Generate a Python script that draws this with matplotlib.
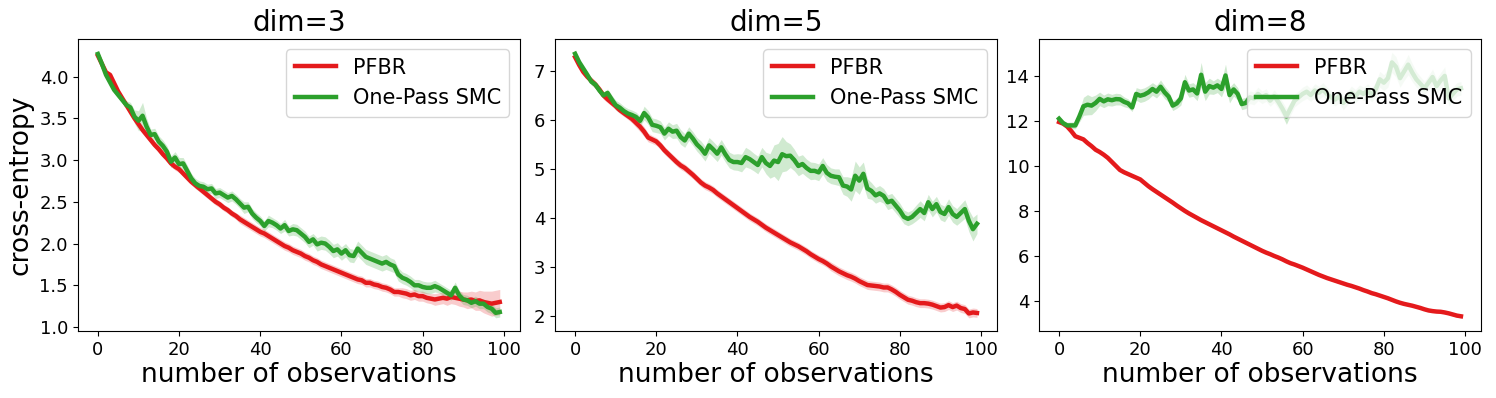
import numpy as np
import matplotlib
matplotlib.use("Agg")
import matplotlib.pyplot as plt

obs = np.arange(100)
titles = ["dim=3", "dim=5", "dim=8"]
method_names = ["PFBR", "One-Pass SMC"]
colors = ["#e41a1c", "#2ca02c"]

# dim = 3
pfbr_d3 = [4.25, 4.15, 4.05, 4.02, 3.92, 3.82, 3.74, 3.66, 3.58, 3.50,
           3.43, 3.36, 3.30, 3.24, 3.18, 3.13, 3.07, 3.02, 2.96, 2.92,
           2.89, 2.84, 2.79, 2.74, 2.70, 2.66, 2.62, 2.58, 2.54, 2.50,
           2.47, 2.43, 2.40, 2.36, 2.33, 2.29, 2.26, 2.23, 2.20, 2.17,
           2.14, 2.12, 2.09, 2.06, 2.03, 2.00, 1.97, 1.95, 1.92, 1.90,
           1.88, 1.85, 1.83, 1.80, 1.78, 1.75, 1.73, 1.71, 1.69, 1.67,
           1.65, 1.63, 1.61, 1.59, 1.57, 1.56, 1.53, 1.53, 1.51, 1.50,
           1.48, 1.47, 1.45, 1.42, 1.42, 1.41, 1.40, 1.38, 1.39, 1.37,
           1.37, 1.35, 1.34, 1.33, 1.34, 1.35, 1.34, 1.36, 1.35, 1.34,
           1.33, 1.32, 1.33, 1.31, 1.32, 1.30, 1.29, 1.28, 1.29, 1.30]
pfbr_d3_err = [0.02, 0.02, 0.02, 0.02, 0.03, 0.03, 0.03, 0.03, 0.03, 0.03,
               0.03, 0.03, 0.03, 0.04, 0.04, 0.04, 0.04, 0.04, 0.04, 0.04,
               0.04, 0.04, 0.04, 0.04, 0.04, 0.04, 0.04, 0.04, 0.04, 0.04,
               0.04, 0.04, 0.04, 0.04, 0.04, 0.05, 0.05, 0.05, 0.05, 0.05,
               0.05, 0.05, 0.05, 0.05, 0.05, 0.05, 0.05, 0.05, 0.05, 0.05,
               0.05, 0.05, 0.05, 0.05, 0.05, 0.05, 0.05, 0.05, 0.05, 0.05,
               0.05, 0.05, 0.05, 0.05, 0.05, 0.05, 0.05, 0.05, 0.05, 0.05,
               0.05, 0.05, 0.05, 0.05, 0.05, 0.06, 0.06, 0.06, 0.06, 0.06,
               0.06, 0.06, 0.06, 0.07, 0.07, 0.07, 0.08, 0.08, 0.08, 0.09,
               0.09, 0.10, 0.10, 0.11, 0.12, 0.13, 0.14, 0.15, 0.15, 0.15]
smc_d3 = [4.27, 4.15, 4.02, 3.93, 3.84, 3.78, 3.72, 3.66, 3.63, 3.52,
          3.47, 3.53, 3.40, 3.30, 3.31, 3.22, 3.17, 3.10, 2.98, 3.03,
          2.95, 2.96, 2.87, 2.78, 2.72, 2.69, 2.68, 2.65, 2.66, 2.60,
          2.61, 2.58, 2.55, 2.57, 2.53, 2.48, 2.43, 2.44, 2.36, 2.31,
          2.27, 2.21, 2.27, 2.25, 2.22, 2.18, 2.22, 2.15, 2.17, 2.16,
          2.12, 2.08, 2.02, 2.05, 1.99, 2.01, 2.00, 1.96, 1.91, 1.93,
          1.88, 1.92, 1.86, 1.85, 1.94, 1.89, 1.84, 1.82, 1.80, 1.78,
          1.76, 1.78, 1.75, 1.73, 1.63, 1.59, 1.57, 1.54, 1.50, 1.50,
          1.48, 1.47, 1.47, 1.49, 1.47, 1.44, 1.41, 1.38, 1.47, 1.38,
          1.33, 1.32, 1.29, 1.31, 1.28, 1.28, 1.24, 1.22, 1.17, 1.18]
smc_d3_err = [0.02, 0.03, 0.03, 0.04, 0.04, 0.04, 0.04, 0.05, 0.06, 0.08,
              0.12, 0.16, 0.10, 0.07, 0.07, 0.07, 0.07, 0.07, 0.07, 0.07,
              0.08, 0.07, 0.07, 0.06, 0.06, 0.06, 0.06, 0.06, 0.06, 0.06,
              0.06, 0.06, 0.06, 0.06, 0.06, 0.06, 0.07, 0.06, 0.06, 0.06,
              0.06, 0.06, 0.07, 0.06, 0.06, 0.06, 0.07, 0.06, 0.07, 0.07,
              0.07, 0.07, 0.07, 0.07, 0.08, 0.08, 0.08, 0.08, 0.08, 0.08,
              0.08, 0.08, 0.08, 0.08, 0.09, 0.09, 0.09, 0.09, 0.09, 0.09,
              0.09, 0.09, 0.08, 0.08, 0.08, 0.07, 0.07, 0.07, 0.07, 0.07,
              0.07, 0.07, 0.07, 0.07, 0.06, 0.06, 0.06, 0.06, 0.07, 0.06,
              0.06, 0.06, 0.06, 0.06, 0.06, 0.06, 0.06, 0.06, 0.06, 0.06]

# dim = 5
pfbr_d5 = [7.28, 7.12, 6.98, 6.88, 6.80, 6.72, 6.62, 6.50, 6.42, 6.35,
           6.28, 6.20, 6.14, 6.08, 6.02, 5.94, 5.86, 5.76, 5.64, 5.60,
           5.56, 5.48, 5.38, 5.30, 5.22, 5.14, 5.07, 5.02, 4.95, 4.88,
           4.80, 4.72, 4.66, 4.62, 4.57, 4.50, 4.44, 4.38, 4.32, 4.26,
           4.20, 4.14, 4.08, 4.02, 3.97, 3.92, 3.86, 3.80, 3.75, 3.70,
           3.65, 3.60, 3.55, 3.50, 3.46, 3.42, 3.37, 3.32, 3.26, 3.21,
           3.16, 3.12, 3.07, 3.01, 2.96, 2.91, 2.87, 2.83, 2.80, 2.76,
           2.71, 2.67, 2.63, 2.62, 2.61, 2.60, 2.58, 2.58, 2.54, 2.49,
           2.43, 2.38, 2.33, 2.31, 2.28, 2.26, 2.26, 2.25, 2.23, 2.20,
           2.17, 2.18, 2.22, 2.18, 2.21, 2.16, 2.14, 2.05, 2.07, 2.06]
pfbr_d5_err = [0.04, 0.04, 0.05, 0.06, 0.07, 0.08, 0.08, 0.08, 0.07, 0.07,
               0.07, 0.07, 0.07, 0.07, 0.08, 0.09, 0.10, 0.10, 0.09, 0.08,
               0.08, 0.08, 0.08, 0.08, 0.08, 0.08, 0.08, 0.08, 0.08, 0.08,
               0.08, 0.08, 0.08, 0.08, 0.08, 0.08, 0.08, 0.08, 0.08, 0.08,
               0.08, 0.08, 0.08, 0.08, 0.08, 0.08, 0.08, 0.08, 0.08, 0.08,
               0.08, 0.08, 0.08, 0.08, 0.08, 0.08, 0.08, 0.08, 0.08, 0.08,
               0.08, 0.08, 0.08, 0.09, 0.09, 0.09, 0.09, 0.09, 0.09, 0.09,
               0.09, 0.09, 0.09, 0.09, 0.09, 0.09, 0.09, 0.09, 0.09, 0.09,
               0.09, 0.09, 0.09, 0.09, 0.09, 0.09, 0.09, 0.09, 0.09, 0.09,
               0.09, 0.09, 0.09, 0.09, 0.09, 0.09, 0.09, 0.09, 0.09, 0.09]
smc_d5 = [7.35, 7.18, 7.05, 6.92, 6.78, 6.72, 6.60, 6.50, 6.55, 6.42,
          6.30, 6.25, 6.18, 6.13, 6.10, 6.06, 5.98, 6.14, 6.05, 5.90,
          5.88, 5.85, 5.72, 5.82, 5.76, 5.78, 5.65, 5.58, 5.72, 5.62,
          5.50, 5.42, 5.31, 5.48, 5.40, 5.31, 5.44, 5.30, 5.18, 5.14,
          5.14, 5.12, 5.24, 5.20, 5.14, 5.08, 5.24, 5.12, 5.06, 5.17,
          5.14, 5.30, 5.26, 5.27, 5.18, 5.06, 5.10, 5.02, 4.96, 4.96,
          4.93, 5.06, 4.92, 4.86, 4.84, 4.83, 4.66, 4.64, 4.58, 4.86,
          4.76, 4.90, 4.60, 4.55, 4.46, 4.50, 4.45, 4.32, 4.35, 4.25,
          4.15, 4.02, 3.98, 4.02, 4.10, 4.18, 4.10, 4.32, 4.18, 4.28,
          4.12, 4.08, 4.22, 4.08, 4.02, 4.10, 4.18, 3.94, 3.77, 3.88]
smc_d5_err = [0.03, 0.04, 0.05, 0.06, 0.07, 0.07, 0.07, 0.07, 0.08, 0.09,
              0.10, 0.10, 0.10, 0.10, 0.10, 0.10, 0.10, 0.14, 0.14, 0.14,
              0.14, 0.13, 0.13, 0.14, 0.14, 0.15, 0.15, 0.14, 0.14, 0.14,
              0.14, 0.15, 0.15, 0.16, 0.16, 0.16, 0.16, 0.16, 0.16, 0.16,
              0.17, 0.18, 0.20, 0.19, 0.18, 0.18, 0.20, 0.22, 0.25, 0.32,
              0.38, 0.36, 0.30, 0.24, 0.22, 0.20, 0.19, 0.18, 0.18, 0.17,
              0.17, 0.17, 0.17, 0.16, 0.16, 0.17, 0.18, 0.20, 0.24, 0.30,
              0.28, 0.24, 0.20, 0.17, 0.16, 0.16, 0.15, 0.15, 0.15, 0.15,
              0.15, 0.14, 0.14, 0.14, 0.16, 0.17, 0.16, 0.16, 0.16, 0.16,
              0.16, 0.16, 0.17, 0.17, 0.17, 0.18, 0.19, 0.22, 0.24, 0.20]

# dim = 8
pfbr_d8 = [11.95, 11.88, 11.75, 11.55, 11.32, 11.25, 11.18, 11.02, 10.88, 10.72,
           10.62, 10.50, 10.36, 10.18, 10.00, 9.82, 9.72, 9.64, 9.56, 9.48,
           9.40, 9.25, 9.10, 8.97, 8.85, 8.73, 8.61, 8.49, 8.37, 8.24,
           8.12, 8.00, 7.89, 7.79, 7.69, 7.59, 7.50, 7.41, 7.32, 7.23,
           7.14, 7.05, 6.96, 6.86, 6.77, 6.68, 6.59, 6.50, 6.41, 6.32,
           6.23, 6.15, 6.08, 6.00, 5.93, 5.85, 5.76, 5.68, 5.62, 5.55,
           5.48, 5.40, 5.32, 5.24, 5.16, 5.09, 5.02, 4.96, 4.90, 4.84,
           4.78, 4.72, 4.67, 4.61, 4.55, 4.48, 4.42, 4.35, 4.30, 4.24,
           4.18, 4.12, 4.05, 3.98, 3.92, 3.87, 3.83, 3.79, 3.74, 3.69,
           3.63, 3.58, 3.55, 3.53, 3.52, 3.49, 3.45, 3.40, 3.35, 3.32]
pfbr_d8_err = [0.05, 0.05, 0.05, 0.05, 0.05, 0.05, 0.05, 0.05, 0.05, 0.05,
               0.05, 0.05, 0.05, 0.05, 0.05, 0.05, 0.06, 0.06, 0.06, 0.07,
               0.07, 0.07, 0.08, 0.08, 0.08, 0.08, 0.08, 0.08, 0.07, 0.07,
               0.07, 0.07, 0.07, 0.07, 0.07, 0.07, 0.07, 0.07, 0.07, 0.07,
               0.06, 0.06, 0.06, 0.06, 0.06, 0.06, 0.06, 0.06, 0.06, 0.06,
               0.06, 0.06, 0.06, 0.06, 0.06, 0.06, 0.06, 0.06, 0.06, 0.06,
               0.06, 0.06, 0.06, 0.06, 0.06, 0.06, 0.06, 0.06, 0.06, 0.06,
               0.06, 0.06, 0.06, 0.06, 0.06, 0.06, 0.06, 0.06, 0.06, 0.06,
               0.06, 0.06, 0.06, 0.06, 0.06, 0.06, 0.06, 0.06, 0.06, 0.06,
               0.06, 0.06, 0.06, 0.06, 0.06, 0.06, 0.06, 0.07, 0.07, 0.07]
smc_d8 = [12.10, 11.90, 11.80, 11.80, 11.80, 12.20, 12.65, 12.72, 12.68, 12.80,
          12.98, 12.87, 12.96, 12.92, 12.97, 12.96, 12.85, 12.78, 12.60, 13.20,
          13.12, 13.17, 13.27, 13.42, 13.30, 13.52, 13.27, 13.08, 12.68, 12.78,
          13.00, 13.72, 13.35, 13.40, 13.22, 14.05, 13.30, 13.55, 13.48, 13.58,
          13.42, 14.02, 13.15, 13.40, 13.20, 12.75, 12.80, 13.05, 13.00, 13.20,
          13.05, 13.15, 12.90, 13.10, 12.85, 12.55, 12.20, 12.55, 12.90, 13.05,
          13.20, 13.30, 13.15, 13.35, 13.25, 13.40, 13.20, 13.05, 12.95, 13.10,
          12.80, 13.00, 13.25, 13.10, 13.30, 13.20, 13.35, 13.15, 13.40, 13.85,
          13.70, 13.90, 14.60, 14.40, 13.90, 14.20, 14.50, 14.15, 13.85, 13.65,
          13.45, 13.70, 13.95, 13.55, 13.80, 14.00, 13.00, 13.20, 13.40, 13.45]
smc_d8_err = [0.10, 0.12, 0.14, 0.15, 0.15, 0.25, 0.40, 0.45, 0.40, 0.35,
              0.30, 0.28, 0.28, 0.26, 0.26, 0.25, 0.22, 0.20, 0.18, 0.28,
              0.30, 0.30, 0.30, 0.28, 0.28, 0.30, 0.28, 0.25, 0.22, 0.22,
              0.30, 0.35, 0.30, 0.30, 0.32, 0.55, 0.40, 0.35, 0.30, 0.32,
              0.35, 0.50, 0.35, 0.30, 0.28, 0.25, 0.25, 0.28, 0.28, 0.30,
              0.28, 0.28, 0.25, 0.28, 0.30, 0.32, 0.35, 0.30, 0.28, 0.28,
              0.30, 0.30, 0.28, 0.30, 0.30, 0.30, 0.30, 0.28, 0.28, 0.30,
              0.30, 0.30, 0.30, 0.30, 0.30, 0.30, 0.30, 0.30, 0.32, 0.35,
              0.35, 0.40, 0.45, 0.45, 0.40, 0.40, 0.45, 0.40, 0.35, 0.32,
              0.30, 0.32, 0.35, 0.32, 0.35, 0.40, 0.35, 0.30, 0.30, 0.30]

panels = [
    [(pfbr_d3, pfbr_d3_err), (smc_d3, smc_d3_err)],
    [(pfbr_d5, pfbr_d5_err), (smc_d5, smc_d5_err)],
    [(pfbr_d8, pfbr_d8_err), (smc_d8, smc_d8_err)],
]

fig = plt.figure(figsize=(14.96, 3.98), dpi=100)
lefts = [0.052, 0.371, 0.6945]

for i, series in enumerate(panels):
    ax = fig.add_axes([lefts[i], 0.168, 0.2955, 0.734])
    for (mean, err), name, c in zip(series, method_names, colors):
        mean = np.array(mean)
        err = np.array(err)
        ax.plot(obs, mean, color=c, lw=3.2, label=name)
        ax.fill_between(obs, mean - err, mean + err, color=c, alpha=0.22, lw=0)
    ax.set_title(titles[i], fontsize=20)
    ax.set_xlabel("number of observations", fontsize=19, labelpad=2)
    if i == 0:
        ax.set_ylabel("cross-entropy", fontsize=19)
    ax.set_xticks([0, 20, 40, 60, 80, 100])
    ax.tick_params(labelsize=13)
    ax.legend(loc="upper right", fontsize=15)

fig.savefig("out.png", dpi=100)
